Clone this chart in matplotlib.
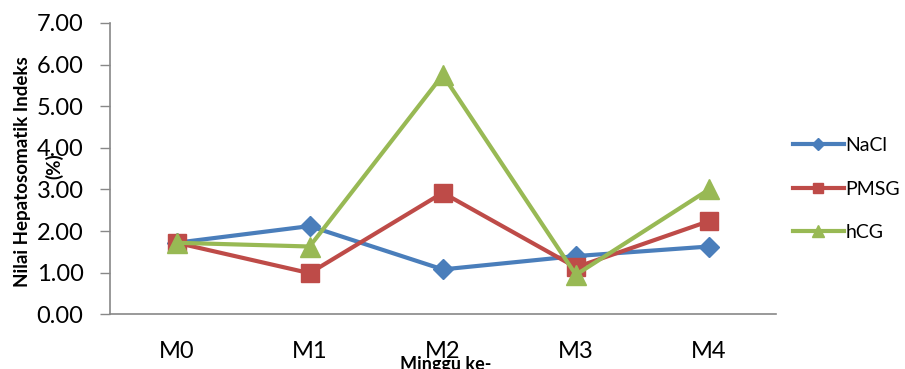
import matplotlib
matplotlib.use("Agg")
import matplotlib.pyplot as plt

categories = ["M0", "M1", "M2", "M3", "M4"]
nacl = [1.72, 2.12, 1.08, 1.40, 1.63]
pmsg = [1.72, 0.99, 2.92, 1.13, 2.24]
hcg = [1.72, 1.63, 5.75, 0.95, 3.00]
yticks = [0, 1, 2, 3, 4, 5, 6, 7]

plt.rcParams['font.family'] = ['Lato', 'DejaVu Sans']

fig = plt.figure(figsize=(9.05, 3.69), dpi=100)
ax = fig.add_axes([0.1215, 0.148, 0.7355, 0.790])

x = list(range(len(categories)))
ax.plot(x, nacl, color='#4a7ebb', lw=3, marker='D', ms=10, label='NaCl')
ax.plot(x, pmsg, color='#be4b48', lw=3, marker='s', ms=13, label='PMSG')
ax.plot(x, hcg, color='#98b954', lw=3, marker='^', ms=15, label='hCG')

ax.set_xlim(-0.5, len(categories) - 0.5)
ax.set_ylim(0, 7)
ax.set_yticks(yticks)
ax.set_yticklabels([f"{v:.2f}" for v in yticks], fontsize=17)
ax.set_xticks(x)
ax.set_xticklabels(categories, fontsize=17)
ax.tick_params(axis='y', length=7, width=1, color='#888888', pad=12)
ax.tick_params(axis='x', length=0, pad=19)

for s in ['top', 'right']:
    ax.spines[s].set_visible(False)
for s in ['left', 'bottom']:
    ax.spines[s].set_color('#888888')
    ax.spines[s].set_linewidth(1.2)

leg = ax.legend(loc='center left', bbox_to_anchor=(1.0, 0.43), frameon=False,
                fontsize=14, handlelength=2.6, labelspacing=1.35, handletextpad=0.1,
                markerscale=0.6)

fig.text(0.025, 0.535, "Nilai Hepatosomatik Indeks", rotation=90, ha='center',
         va='center', fontsize=13.5, fontweight='bold')
fig.text(0.060, 0.55, "(%)", rotation=90, ha='center', va='center',
         fontsize=13.5, fontweight='bold')
fig.text(0.493, 0.012, "Minggu ke-", ha='center', va='center', fontsize=13,
         fontweight='bold')

fig.savefig("out.png", dpi=100)
